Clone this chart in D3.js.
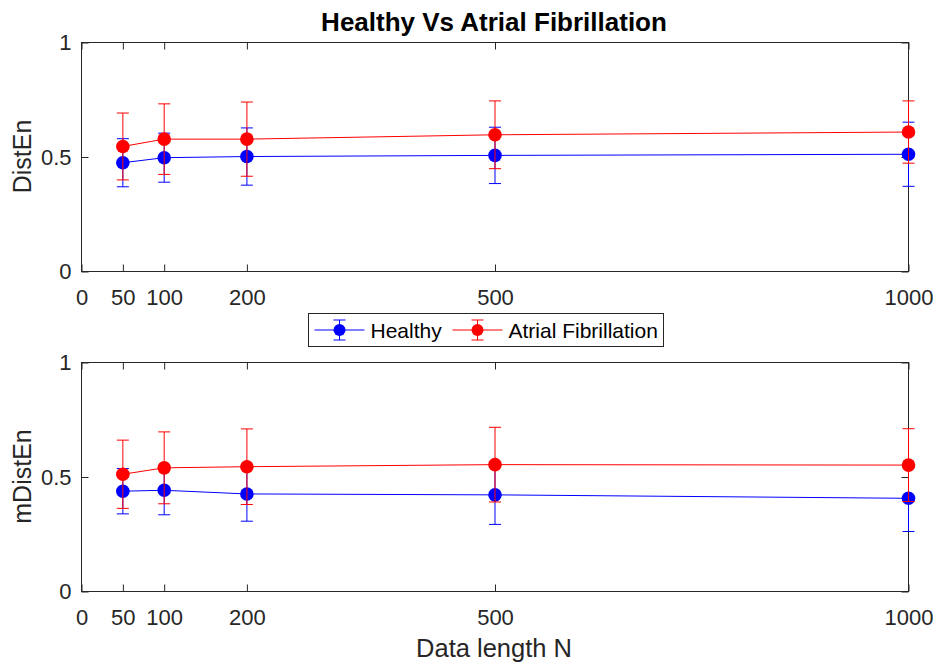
<!DOCTYPE html>
<html>
<head>
<meta charset="utf-8">
<script src="https://cdn.jsdelivr.net/npm/d3@7"></script>
<style>
  body { margin: 0; background: #fff; }
  svg { display: block; font-family: "Liberation Sans", Arial, Helvetica, sans-serif; }
  .tick text { fill: #262626; }
</style>
</head>
<body>
<svg id="chart" width="936" height="666"></svg>
<script>
// data (mean and std of each group)
var Ns = [50, 100, 200, 500, 1000];
var xTicks = [0, 50, 100, 200, 500, 1000];
var yTicks = [0, 0.5, 1];
var seriesNames = ["Healthy", "Atrial Fibrillation"];
var seriesColors = ["#0000ff", "#ff0000"];

var distEnHealthy    = [0.475, 0.497, 0.502, 0.507, 0.512];
var distEnHealthySd  = [0.105, 0.107, 0.125, 0.123, 0.140];
var distEnAF         = [0.546, 0.578, 0.578, 0.597, 0.609];
var distEnAFSd       = [0.146, 0.154, 0.162, 0.148, 0.136];

var mDistEnHealthy   = [0.438, 0.442, 0.426, 0.422, 0.407];
var mDistEnHealthySd = [0.099, 0.107, 0.119, 0.129, 0.145];
var mDistEnAF        = [0.512, 0.540, 0.545, 0.554, 0.552];
var mDistEnAFSd      = [0.149, 0.157, 0.165, 0.163, 0.159];

var panels = [
    {ylabel: "DistEn", top: 42, bottom: 271, means: [distEnHealthy, distEnAF], sds: [distEnHealthySd, distEnAFSd]},
    {ylabel: "mDistEn", top: 362, bottom: 591, means: [mDistEnHealthy, mDistEnAF], sds: [mDistEnHealthySd, mDistEnAFSd]}
];

var left = 81.5, right = 908.5;
var axisColor = "#262626";
var svg = d3.select("#chart");

var xScale = d3.scaleLinear().domain([0, 1000]).range([left, right]);

panels.forEach(function (p) {
    var yScale = d3.scaleLinear().domain([0, 1]).range([p.bottom + 0.5, p.top + 0.5]);
    var g = svg.append("g");

    // bottom ticks + labels
    g.append("g")
        .attr("transform", "translate(0," + (p.bottom + 0.5) + ")")
        .call(d3.axisBottom(xScale).tickValues(xTicks).tickSizeInner(-7).tickSizeOuter(0).tickPadding(18)
            .tickFormat(d3.format("d")))
        .call(function (a) { a.select(".domain").remove(); })
        .call(function (a) {
            a.selectAll("line").attr("stroke", axisColor);
            a.selectAll("text").attr("font-size", 22).attr("font-family", null);
        });
    // top ticks
    g.append("g")
        .attr("transform", "translate(0," + (p.top + 0.5) + ")")
        .call(d3.axisTop(xScale).tickValues(xTicks).tickSizeInner(-7).tickSizeOuter(0).tickFormat(""))
        .call(function (a) { a.select(".domain").remove(); a.selectAll("line").attr("stroke", axisColor); });
    // left ticks + labels
    g.append("g")
        .attr("transform", "translate(" + left + ",0)")
        .call(d3.axisLeft(yScale).tickValues(yTicks).tickSizeInner(-7).tickSizeOuter(0).tickPadding(10)
            .tickFormat(d3.format("")))
        .call(function (a) { a.select(".domain").remove(); })
        .call(function (a) {
            a.selectAll("line").attr("stroke", axisColor);
            a.selectAll("text").attr("font-size", 22).attr("font-family", null);
        });
    // right ticks
    g.append("g")
        .attr("transform", "translate(" + right + ",0)")
        .call(d3.axisRight(yScale).tickValues(yTicks).tickSizeInner(-7).tickSizeOuter(0).tickFormat(""))
        .call(function (a) { a.select(".domain").remove(); a.selectAll("line").attr("stroke", axisColor); });

    // box
    g.append("rect")
        .attr("x", left).attr("y", p.top + 0.5)
        .attr("width", right - left).attr("height", p.bottom - p.top)
        .attr("fill", "none").attr("stroke", axisColor).attr("stroke-width", 1);

    // y label
    g.append("text")
        .attr("transform", "translate(31," + ((p.top + p.bottom) / 2) + ") rotate(-90)")
        .attr("text-anchor", "middle")
        .attr("font-size", 25)
        .attr("fill", axisColor)
        .text(p.ylabel);

    // series
    p.means.forEach(function (means, si) {
        var col = seriesColors[si];
        var sds = p.sds[si];
        var pts = Ns.map(function (n, i) { return {n: n, m: means[i], s: sds[i]}; });
        var sg = g.append("g");

        sg.append("path")
            .datum(pts)
            .attr("fill", "none").attr("stroke", col).attr("stroke-width", 1)
            .attr("d", d3.line().x(function (d) { return xScale(d.n); }).y(function (d) { return yScale(d.m); }));

        var eb = sg.selectAll(".eb").data(pts).enter().append("g").attr("class", "eb");
        eb.append("line")
            .attr("x1", function (d) { return xScale(d.n); }).attr("x2", function (d) { return xScale(d.n); })
            .attr("y1", function (d) { return yScale(d.m - d.s); }).attr("y2", function (d) { return yScale(d.m + d.s); })
            .attr("stroke", col);
        [-1, 1].forEach(function (k) {
            eb.append("line")
                .attr("x1", function (d) { return xScale(d.n) - 6; }).attr("x2", function (d) { return xScale(d.n) + 6; })
                .attr("y1", function (d) { return yScale(d.m + k * d.s); }).attr("y2", function (d) { return yScale(d.m + k * d.s); })
                .attr("stroke", col);
        });
        eb.append("circle")
            .attr("cx", function (d) { return xScale(d.n); })
            .attr("cy", function (d) { return yScale(d.m); })
            .attr("r", 6.8)
            .attr("fill", col);
    });
});

// title
svg.append("text")
    .attr("x", 494).attr("y", 31)
    .attr("text-anchor", "middle")
    .attr("font-size", 26).attr("font-weight", "bold")
    .attr("fill", "#000")
    .text("Healthy Vs Atrial Fibrillation");

// x label
svg.append("text")
    .attr("x", 494).attr("y", 657)
    .attr("text-anchor", "middle")
    .attr("font-size", 25.5)
    .attr("fill", axisColor)
    .text("Data length N");

// legend
var legend = svg.append("g").attr("transform", "translate(308.5,313.5)");
legend.append("rect")
    .attr("width", 355).attr("height", 33)
    .attr("fill", "#fff").attr("stroke", axisColor);
var itemX = [6, 144];
seriesNames.forEach(function (name, i) {
    var it = legend.append("g").attr("transform", "translate(" + itemX[i] + ",16.5)");
    var col = seriesColors[i];
    it.append("line").attr("x1", 0).attr("x2", 50).attr("stroke", col);
    it.append("line").attr("x1", 25).attr("x2", 25).attr("y1", -10).attr("y2", 10).attr("stroke", col);
    it.append("line").attr("x1", 19).attr("x2", 31).attr("y1", -10).attr("y2", -10).attr("stroke", col);
    it.append("line").attr("x1", 19).attr("x2", 31).attr("y1", 10).attr("y2", 10).attr("stroke", col);
    it.append("circle").attr("cx", 25).attr("r", 6).attr("fill", col);
    it.append("text").attr("x", 56).attr("y", 7.5)
        .attr("font-size", 21).attr("fill", "#000")
        .text(name);
});
</script>
</body>
</html>
